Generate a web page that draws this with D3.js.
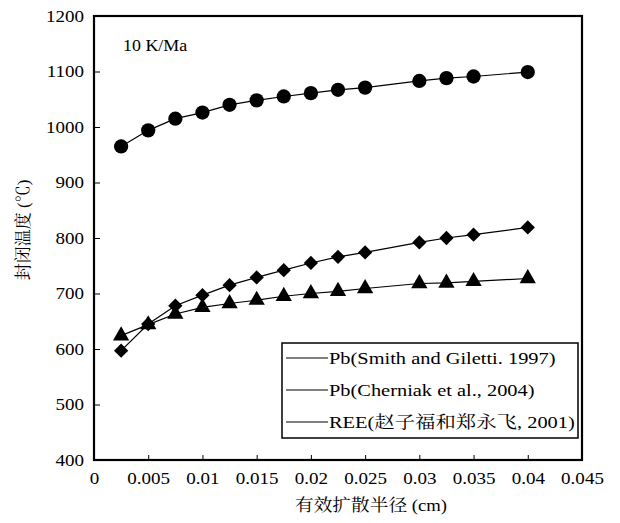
<!DOCTYPE html>
<html>
<head>
<meta charset="utf-8">
<script src="https://cdn.jsdelivr.net/npm/d3@7"></script>
<style>
  body { margin: 0; background: #fff; }
  svg { display: block; }
</style>
</head>
<body>
<svg id="chart" width="620" height="523"></svg>
<script>
// ---- data ----
const radius = [0.0025, 0.005, 0.0075, 0.01, 0.0125, 0.015, 0.0175, 0.02, 0.0225, 0.025, 0.03, 0.0325, 0.035, 0.04];
const smithGiletti = [965, 994, 1015, 1026, 1040, 1048, 1055, 1061, 1067, 1071, 1083, 1088, 1091, 1099];
const cherniak = [597, 645, 678, 697, 715, 729, 742, 755, 766, 774, 792, 800, 806, 819];
const ree = [624, 644, 663, 675, 682, 688, 695, 700, 704, 709, 718, 719, 722, 727];
const seriesNames = ["Pb(Smith and Giletti. 1997)", "Pb(Cherniak et al., 2004)", "REE(赵子福和郑永飞, 2001)"];
const xTicks = [0, 0.005, 0.01, 0.015, 0.02, 0.025, 0.03, 0.035, 0.04, 0.045];
const xTickLabels = ["0", "0.005", "0.01", "0.015", "0.02", "0.025", "0.03", "0.035", "0.04", "0.045"];
const yTicks = [400, 500, 600, 700, 800, 900, 1000, 1100, 1200];
const xTitle = "有效扩散半径 (cm)";
const yTitle = "封闭温度 (℃)";
const annotation = "10 K/Ma";

const SERIF = "'Liberation Serif'";
const CJK = "'Liberation Serif', 'Noto Serif CJK SC'";
const TICK_STRETCH = 1.12, LEGEND_STRETCH = 1.2, TITLE_STRETCH = 1.1;

const svg = d3.select("#chart");
const L = 94, R = 582, T = 16, B = 460;

const x = d3.scaleLinear().domain([0, 0.045]).range([L, R]);
const y = d3.scaleLinear().domain([400, 1200]).range([B, T]);

// axes
const xAxis = d3.axisBottom(x).tickValues(xTicks).tickFormat((d, i) => xTickLabels[i]).tickSizeInner(-5).tickSizeOuter(0).tickPadding(12);
const yAxis = d3.axisLeft(y).tickValues(yTicks).tickFormat(d3.format("d")).tickSizeInner(-6).tickSizeOuter(0).tickPadding(10);

const gx = svg.append("g").attr("transform", `translate(0,${B})`).call(xAxis);
const gy = svg.append("g").attr("transform", `translate(${L},0)`).call(yAxis);
[gx, gy].forEach(g => {
  g.attr("font-family", SERIF).attr("font-size", 17);
  g.select(".domain").remove();
  g.selectAll(".tick line").attr("stroke", "#000").attr("stroke-width", 1);
  g.selectAll(".tick text").attr("fill", "#000").style("font-family", SERIF).style("font-size", "17px")
    .attr("transform", `scale(${TICK_STRETCH},1)`);
});
gy.selectAll(".tick text").attr("x", -10 / TICK_STRETCH);
gx.selectAll(".tick").filter(d => d === 0 || d === 0.045).select("line").remove();
gy.selectAll(".tick").filter(d => d === 400 || d === 1200).select("line").remove();

// frame
svg.append("rect").attr("x", L).attr("y", T).attr("width", R - L).attr("height", B - T)
  .attr("fill", "none").attr("stroke", "#000").attr("stroke-width", 2.2);

// series
const line = d3.line().x(d => x(d[0])).y(d => y(d[1]));
const sets = [
  { vals: smithGiletti, sym: d3.symbolCircle, size: 160 },
  { vals: cherniak, sym: d3.symbolDiamond2, size: 130 },
  { vals: ree, sym: d3.symbolTriangle, size: 115 }
];
sets.forEach(s => {
  const pts = radius.map((r, i) => [r, s.vals[i]]);
  svg.append("path").datum(pts).attr("d", line).attr("fill", "none").attr("stroke", "#000").attr("stroke-width", 1.2);
  svg.append("g").selectAll("path").data(pts).join("path")
    .attr("transform", d => `translate(${x(d[0])},${y(d[1])})`)
    .attr("d", d3.symbol().type(s.sym).size(s.size))
    .attr("fill", "#000");
});

// annotation
svg.append("text").attr("transform", `translate(123,51) scale(1.12,1)`)
  .style("font-family", SERIF).style("font-size", "16px").text(annotation);

// legend
const lg = svg.append("g");
lg.append("rect").attr("x", 282).attr("y", 343).attr("width", 296).attr("height", 95)
  .attr("fill", "#fff").attr("stroke", "#000").attr("stroke-width", 1.5);
seriesNames.forEach((n, i) => {
  const yy = 358 + i * 32;
  lg.append("line").attr("x1", 286).attr("x2", 328).attr("y1", yy).attr("y2", yy).attr("stroke", "#000").attr("stroke-width", 1.2);
  lg.append("text").attr("transform", `translate(329,${yy + 6}) scale(${LEGEND_STRETCH},1)`)
    .style("font-family", CJK).style("font-size", "17px").text(n);
});

// axis titles
svg.append("text").attr("transform", `translate(371,511) scale(${TITLE_STRETCH},1)`).attr("text-anchor", "middle")
  .style("font-family", CJK).style("font-size", "17px").text(xTitle);
svg.append("text").attr("transform", "translate(29,230) rotate(-90)").attr("text-anchor", "middle")
  .style("font-family", CJK).style("font-size", "17px").text(yTitle);
</script>
</body>
</html>
